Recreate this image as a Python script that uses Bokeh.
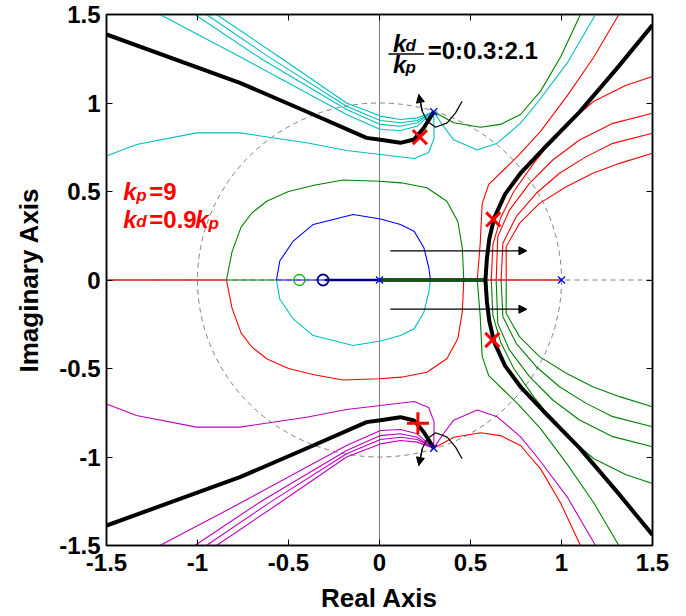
from bokeh.plotting import figure
from bokeh.models import Range1d, FixedTicker, LinearAxis, Arrow, NormalHead, Label, ColumnDataSource
from bokeh.embed import file_html
from bokeh.resources import INLINE

# ---------------- data ----------------
TICKS = [-1.5, -1, -0.5, 0, 0.5, 1, 1.5]
TICK_LABELS = ["-1.5", "-1", "-0.5", "0", "0.5", "1", "1.5"]

# Root-locus branches in the upper half plane (lower half = complex conjugates)
bundle1_x = [-0.896, -0.55, -0.181, 0.005, 0.115, 0.207, 0.298]
bundle1_y = [1.5, 1.26, 1.0, 0.926, 0.907, 0.916, 0.95]
bundle2_x = [-0.951, -0.60, -0.181, 0.005, 0.115, 0.207, 0.298]
bundle2_y = [1.5, 1.255, 0.982, 0.901, 0.888, 0.901, 0.95]
bundle3_x = [-1.015, -0.65, -0.181, 0.005, 0.115, 0.207, 0.298]
bundle3_y = [1.5, 1.25, 0.963, 0.879, 0.869, 0.888, 0.95]
bundle4_x = [-1.207, -0.80, -0.181, 0.005, 0.115, 0.207, 0.298]
bundle4_y = [1.5, 1.28, 0.935, 0.85, 0.845, 0.869, 0.95]
single_x = [-1.5, -1.335, -1.005, -0.767, -0.401, -0.181, 0.005, 0.19, 0.27, 0.30, 0.298]
single_y = [0.70, 0.766, 0.831, 0.831, 0.775, 0.732, 0.709, 0.686, 0.72, 0.80, 0.95]
pole_up_x = [0.298, 0.408, 0.555, 0.665, 0.775, 0.885, 0.995, 1.104]
pole_up_y = [0.95, 0.888, 0.863, 0.879, 0.935, 1.067, 1.26, 1.5]
pole_v_x = [0.298, 0.35, 0.408, 0.537, 0.647, 0.775, 0.866, 1.031, 1.187]
pole_v_y = [0.95, 0.87, 0.792, 0.735, 0.773, 0.886, 1.0, 1.225, 1.5]
outer_left_x = [0.537, 0.553, 0.564, 0.60, 0.68, 0.76, 0.885, 1.031, 1.178, 1.315]
outer_left_y = [0.0, 0.2, 0.43, 0.54, 0.62, 0.70, 0.84, 1.04, 1.26, 1.5]
right1_x = [0.614, 0.623, 0.665, 0.738, 0.848, 0.995, 1.178, 1.355, 1.5]
right1_y = [0.0, 0.2, 0.35, 0.50, 0.66, 0.85, 1.01, 1.10, 1.15]
right2_x = [0.641, 0.65, 0.714, 0.824, 0.952, 1.099, 1.282, 1.5]
right2_y = [0.0, 0.245, 0.395, 0.546, 0.678, 0.791, 0.885, 0.942]
right3_x = [0.668, 0.678, 0.751, 0.861, 0.989, 1.136, 1.282, 1.5]
right3_y = [0.0, 0.207, 0.358, 0.49, 0.603, 0.697, 0.772, 0.829]
right4_x = [0.696, 0.696, 0.769, 0.879, 1.026, 1.172, 1.319, 1.5]
right4_y = [0.0, 0.188, 0.32, 0.433, 0.527, 0.603, 0.659, 0.716]
mid_loop_x = [-0.841, -0.81, -0.76, -0.70, -0.62, -0.50, -0.36, -0.20, 0.0, 0.12, 0.26, 0.37, 0.43, 0.455, 0.463]
mid_loop_y = [0.0, 0.16, 0.30, 0.38, 0.445, 0.50, 0.535, 0.565, 0.558, 0.549, 0.521, 0.445, 0.332, 0.182, 0.0]
inner_loop_x = [-0.566, -0.548, -0.474, -0.364, -0.145, 0.005, 0.115, 0.19, 0.244, 0.271, 0.28]
inner_loop_y = [0.0, 0.107, 0.22, 0.314, 0.37, 0.345, 0.314, 0.276, 0.182, 0.069, 0.0]

# highlighted locus (kd = 0.9 kp)
hl_left_x = [-1.5, -0.767, -0.364, -0.071, 0.005, 0.115, 0.19, 0.244, 0.298]
hl_left_y = [1.387, 1.114, 0.935, 0.803, 0.792, 0.775, 0.794, 0.86, 0.95]
hl_right_x = [0.582, 0.59, 0.603, 0.63, 0.69, 0.78, 0.90, 1.10, 1.30, 1.5]
hl_right_y = [0.0, 0.12, 0.23, 0.35, 0.485, 0.61, 0.74, 0.95, 1.19, 1.44]

# real-axis segments: (start, end)
axis_red_left = [-1.5, -0.841]
axis_green_left = [-0.841, -0.566]
axis_blue_left = [-0.566, -0.30]
axis_zero_pole = [-0.30, 0.0]
axis_mid = [0.0, 0.582]
axis_red_right = [0.582, 1.0]

# poles and zeros
pole_x = [0.0, 1.0, 0.298, 0.298]
pole_y = [0.0, 0.0, 0.95, -0.95]
zero_blue = [-0.31, 0.0]
zero_green = [-0.44, 0.0]

# closed-loop roots for kp = 9, kd = 0.9 kp
cl_x_x = [0.222, 0.625, 0.62]
cl_x_y = [0.807, 0.342, -0.339]
cl_plus_x = [0.211]
cl_plus_y = [-0.81]

# direction arrows
harrow_x = [0.06, 0.81]
harrow_y = 0.165
arc_x = [0.454, 0.418, 0.372, 0.308, 0.262, 0.235, 0.216]
arc_y = [1.01, 0.944, 0.888, 0.863, 0.897, 0.954, 1.048]

UNIT_R = 1.0

CYAN = "#00BFBF"
MAGENTA = "#BF00BF"
GREEN = "#008000"
RED = "#FF0000"
BLUE = "#0000FF"
NAVY = "#00008B"
GRAY = "#808080"

branches = [
    (bundle1_x, bundle1_y, CYAN, MAGENTA),
    (bundle2_x, bundle2_y, CYAN, MAGENTA),
    (bundle3_x, bundle3_y, CYAN, MAGENTA),
    (bundle4_x, bundle4_y, CYAN, MAGENTA),
    (single_x, single_y, CYAN, MAGENTA),
    (pole_up_x, pole_up_y, GREEN, RED),
    (pole_v_x, pole_v_y, CYAN, MAGENTA),
    (outer_left_x, outer_left_y, RED, GREEN),
    (right1_x, right1_y, RED, GREEN),
    (right2_x, right2_y, RED, GREEN),
    (right3_x, right3_y, RED, GREEN),
    (right4_x, right4_y, RED, GREEN),
    (mid_loop_x, mid_loop_y, GREEN, RED),
    (inner_loop_x, inner_loop_y, BLUE, CYAN),
]

# ---------------- figure ----------------
FONT = "Liberation Sans"
p = figure(frame_width=546, frame_height=531, min_border_left=106, min_border_right=20,
           min_border_top=14, min_border_bottom=62,
           x_range=Range1d(-1.5, 1.5), y_range=Range1d(-1.5, 1.5),
           output_backend="svg", toolbar_location=None, background_fill_color="white")
p.grid.visible = False
p.outline_line_color = "black"
p.outline_line_width = 1.5

for ax in (p.xaxis[0], p.yaxis[0]):
    ax.ticker = FixedTicker(ticks=TICKS)
    ax.major_label_overrides = {t: l for t, l in zip(TICKS, TICK_LABELS)}
    ax.major_tick_in = 6
    ax.major_tick_out = 0
    ax.minor_tick_line_color = None
    ax.axis_line_color = "black"
    ax.axis_line_width = 1.5
    ax.major_label_text_font = FONT
    ax.major_label_text_font_style = "bold"
    ax.major_label_text_font_size = "24px"
    ax.major_label_text_color = "black"
    ax.axis_label_text_font = FONT
    ax.axis_label_text_font_style = "bold"
    ax.axis_label_text_font_size = "26px"
    ax.axis_label_text_color = "black"
p.xaxis.axis_label = "Real Axis"
p.yaxis.axis_label = "Imaginary Axis"
p.xaxis.major_label_standoff = 8
p.yaxis.major_label_standoff = 6
p.xaxis.axis_label_standoff = 9
p.yaxis.axis_label_standoff = 12

for side in ("above", "right"):
    ax = LinearAxis(ticker=FixedTicker(ticks=TICKS),
                    major_label_overrides={t: "" for t in TICKS},
                    major_label_standoff=0, major_tick_in=6, major_tick_out=0,
                    minor_tick_line_color=None, axis_line_color="black", axis_line_width=1.5)
    p.add_layout(ax, side)

# reference lines
p.ellipse(x=[0], y=[0], width=[2 * UNIT_R], height=[2 * UNIT_R], fill_alpha=0,
          line_color=GRAY, line_dash="5 4", line_width=1)
p.line(x=[0, 0], y=[-1.5, 1.5], line_color=GRAY, line_width=1)

# thin branches
xs, ys, cs = [], [], []
for bx, by, cu, cl in branches:
    xs.append(bx); ys.append(by); cs.append(cu)
    xs.append(bx); ys.append([-v for v in by]); cs.append(cl)
p.multi_line(xs="xs", ys="ys", line_color="cs", line_width=1.1,
             source=ColumnDataSource(dict(xs=xs, ys=ys, cs=cs)))

# real-axis pieces
p.line(x=axis_red_left, y=[0, 0], line_color=RED, line_width=1.3)
p.line(x=axis_red_right, y=[0, 0], line_color=RED, line_width=1.5)
p.line(x=[-1.5, 1.5], y=[0, 0], line_color=GRAY, line_width=1, line_dash="5 4")
p.line(x=axis_green_left, y=[0, 0], line_color=GREEN, line_width=1.2)
p.line(x=axis_blue_left, y=[0, 0], line_color=BLUE, line_width=1.2)
p.line(x=axis_zero_pole, y=[0, 0], line_color=NAVY, line_width=2.4)
p.line(x=axis_mid, y=[0, 0], line_color="black", line_width=3.5)
p.line(x=axis_mid, y=[0, 0], line_color=GREEN, line_width=1.5)

# highlighted locus
for hx, hy in ((hl_left_x, hl_left_y), (hl_right_x, hl_right_y)):
    p.line(hx, hy, line_color="black", line_width=4)
    p.line(hx, [-v for v in hy], line_color="black", line_width=4)

# arrows
for s in (1, -1):
    p.add_layout(Arrow(end=NormalHead(size=8, fill_color="black", line_color="black"),
                       x_start=harrow_x[0], x_end=harrow_x[1], y_start=s * harrow_y, y_end=s * harrow_y,
                       line_color="black", line_width=1.2))
    ay = [s * v for v in arc_y]
    p.line(arc_x, ay, line_color="black", line_width=1.2)
    p.add_layout(Arrow(end=NormalHead(size=8, fill_color="black", line_color="black"),
                       x_start=arc_x[-2], y_start=ay[-2], x_end=arc_x[-1], y_end=ay[-1],
                       line_color="black", line_width=1.2))

# poles / zeros
p.scatter(pole_x, pole_y, marker="x", size=10, line_color=BLUE, line_width=1.3)
p.scatter([zero_blue[0]], [zero_blue[1]], marker="circle", size=11, fill_alpha=0, line_color=NAVY, line_width=1.8)
p.scatter([zero_green[0]], [zero_green[1]], marker="circle", size=11, fill_alpha=0, line_color="#00B000", line_width=1.3)

# closed-loop roots
p.scatter(cl_x_x, cl_x_y, marker="x", size=20, line_color=RED, line_width=3)
p.scatter(cl_plus_x, cl_plus_y, marker="cross", size=22, line_color=RED, line_width=3)

# annotations (positioned by vertical centre)
def lab(x, y, t, size, style, color="black"):
    p.add_layout(Label(x=x, y=y, text=t, text_font=FONT, text_font_size=size,
                       text_font_style=style, text_color=color, text_baseline="middle"))

lab(0.074, 1.338, "k", "24px", "bold italic")
lab(0.143, 1.325, "d", "17px", "bold italic")
lab(0.074, 1.216, "k", "24px", "bold italic")
lab(0.143, 1.198, "p", "17px", "bold italic")
p.line(x=[0.049, 0.245], y=[1.277, 1.277], line_color="black", line_width=1.5)
lab(0.265, 1.297, "=0:0.3:2.1", "24px", "bold")

lab(-1.408, 0.498, "k", "24px", "bold italic", RED)
lab(-1.336, 0.475, "p", "17px", "bold italic", RED)
lab(-1.265, 0.498, "=9", "24px", "bold", RED)
lab(-1.408, 0.342, "k", "24px", "bold italic", RED)
lab(-1.336, 0.328, "d", "17px", "bold italic", RED)
lab(-1.265, 0.342, "=0.9", "24px", "bold", RED)
lab(-1.012, 0.342, "k", "24px", "bold italic", RED)
lab(-0.939, 0.317, "p", "17px", "bold italic", RED)

open("out.html", "w").write(file_html(p, INLINE))
